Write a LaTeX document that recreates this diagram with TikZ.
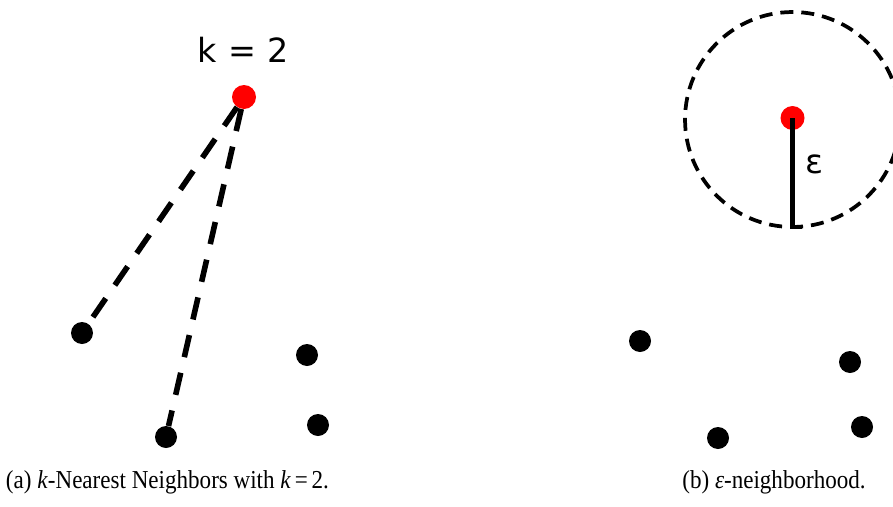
\documentclass[tikz,border=0pt]{standalone}
\usepackage{fontspec}
\setmainfont{Liberation Serif}
\newfontfamily\labelfont{DejaVu Sans}
\begin{document}
\begin{tikzpicture}[x=0.75pt,y=-0.75pt,
  dot/.style={circle,fill=black,inner sep=0pt,minimum size=16.5pt},
  query/.style={circle,fill=red,inner sep=0pt,minimum size=18pt},
  link/.style={line width=4.2pt,dash pattern=on 17pt off 12pt},
  caption/.style={font=\fontsize{17.3}{20}\selectfont}]
  \useasboundingbox (0,0) rectangle (893,507);
  % left panel: k nearest neighbours
  \node[font=\labelfont\fontsize{25}{30}\selectfont] (klabel) at (243,50) {k\,\,=\,\,2};
  \node[query] (qa) at (244,97) {};
  \node[dot] (a1) at (82,333) {};
  \node[dot] (a2) at (166,437) {};
  \node[dot] (a3) at (307,355) {};
  \node[dot] (a4) at (318,425) {};
  \draw[link] (qa) -- (a1);
  \draw[link] (qa) -- (a2);
  \node[caption] (capa) at (167.5,482) {\scalebox{1}[1.12]{(a) \textit{k}-Nearest Neighbors with \textit{k}\,=\,2.}};
  % right panel: epsilon neighbourhood
  \draw[line width=2.8pt,dash pattern=on 9.75pt off 6pt] (792.5,119.5) circle[radius=80.6pt];
  \coordinate (rim) at (792.5,227);
  \node[query] (qb) at (792.5,118) {};
  \draw[line width=3.2pt] (qb.center) -- (rim) -- ++(9,0);
  \node[font=\labelfont\fontsize{25}{30}\selectfont] (eps) at (815,164) {ε};
  \node[dot] (b1) at (640,341) {};
  \node[dot] (b2) at (718,438) {};
  \node[dot] (b3) at (850,362) {};
  \node[dot] (b4) at (862,427) {};
  \node[caption] (capb) at (774,482) {\scalebox{1}[1.12]{(b) \textit{ε}-neighborhood.}};
\end{tikzpicture}
\end{document}
